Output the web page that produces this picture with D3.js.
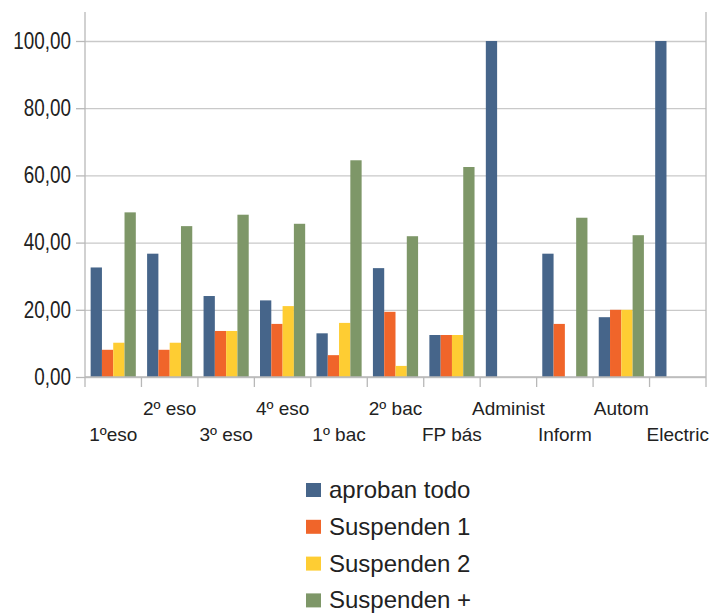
<!DOCTYPE html>
<html>
<head>
<meta charset="utf-8">
<title>aprobados por curso</title>
<script type="text/javascript" src="https://cdn.jsdelivr.net/npm/d3@7/dist/d3.min.js"></script>
<style>
  body { margin: 0; background: #fff; }
  text { fill: #222; font-family: "Liberation Sans", Arial, sans-serif; }
  .ylab { font-size: 23px; }
  .xlab { font-size: 19px; }
  .leg { font-size: 24px; }
</style>
</head>
<body>
<div id="chart"></div>
<script type="text/javascript">

// chart data
var categories = ["1ºeso", "2º eso", "3º eso", "4º eso", "1º bac", "2º bac", "FP bás", "Administ", "Inform", "Autom", "Electric"];
var seriesNames = ["aproban todo", "Suspenden 1", "Suspenden 2", "Suspenden +"];
var aprobanTodo = [32.6, 36.7, 24.1, 22.8, 13.0, 32.4, 12.5, 100, 36.7, 17.8, 100];
var suspenden1  = [8.1, 8.1, 13.7, 15.8, 6.5, 19.4, 12.5, 0, 15.8, 20.0, 0];
var suspenden2  = [10.2, 10.2, 13.7, 21.1, 16.1, 3.3, 12.5, 0, 0, 20.0, 0];
var suspendenMas = [49.0, 44.9, 48.3, 45.6, 64.5, 41.9, 62.5, 0, 47.4, 42.2, 0];
var yTicks = [0, 20, 40, 60, 80, 100];

var seriesValues = [aprobanTodo, suspenden1, suspenden2, suspendenMas];
var colors = ["#46658a", "#f0652a", "#fecd33", "#7e9768"];

var W = 722, H = 615;
var plotL = 85, plotR = 706, plotT = 12, plotB = 377;
var ySquash = 0.82; // y labels are drawn narrow in the original

var svg = d3.select("#chart").append("svg")
  .attr("width", W)
  .attr("height", H);

var x = d3.scaleBand().domain(categories).range([plotL, plotR]).padding(0);
var x1 = d3.scaleBand().domain(seriesNames)
  .range([x.bandwidth() * 0.1, x.bandwidth() * 0.9]).padding(0);
var y = d3.scaleLinear().domain([0, 108.63]).range([plotB, plotT]);

//gridlines
svg.append("g")
  .attr("transform", "translate(" + plotL + ",0)")
  .call(d3.axisLeft(y).tickValues(yTicks).tickSize(-(plotR - plotL)).tickFormat(""))
  .call(function(g) {
    g.select(".domain").remove();
    g.selectAll("line").attr("stroke", "#c9c9c9").attr("stroke-width", 1.3);
  });

//frame lines left/right
[plotL, plotR].forEach(function(xx) {
  svg.append("line")
    .attr("x1", xx).attr("x2", xx)
    .attr("y1", plotT).attr("y2", plotB)
    .attr("stroke", "#b8b8b8").attr("stroke-width", 1.3);
});

//bars
var groups = svg.append("g").selectAll("g")
  .data(categories)
  .enter().append("g")
  .attr("transform", function(d) { return "translate(" + x(d) + ",0)"; });

groups.selectAll("rect")
  .data(function(d, i) {
    return seriesNames.map(function(s, j) { return { name: s, value: seriesValues[j][i], color: colors[j] }; });
  })
  .enter().append("rect")
  .filter(function(d) { return d.value > 0; })
  .attr("x", function(d) { return x1(d.name); })
  .attr("width", x1.bandwidth())
  .attr("y", function(d) { return y(d.value); })
  .attr("height", function(d) { return plotB - y(d.value); })
  .attr("fill", function(d) { return d.color; });

//y axis
svg.append("g")
  .attr("transform", "translate(" + plotL + ",0)")
  .call(d3.axisLeft(y).tickValues(yTicks).tickSize(9).tickPadding(5)
    .tickFormat(function(d) { return d3.format(".2f")(d).replace(".", ","); }))
  .call(function(g) {
    g.select(".domain").remove();
    g.selectAll("line").attr("stroke", "#b8b8b8").attr("stroke-width", 1.3);
    g.selectAll("text")
      .attr("class", "ylab")
      .attr("fill", "#222")
      .attr("x", -14 / ySquash)
      .attr("transform", "scale(" + ySquash + ",1)");
  })
  .attr("font-family", null).attr("font-size", null);

//x axis line + ticks at category boundaries
svg.append("line")
  .attr("x1", plotL).attr("x2", plotR)
  .attr("y1", plotB).attr("y2", plotB)
  .attr("stroke", "#b8b8b8").attr("stroke-width", 1.3);

var bounds = categories.map(function(c) { return x(c); }).concat([plotR]);
svg.append("g").selectAll("line")
  .data(bounds)
  .enter().append("line")
  .attr("x1", function(d) { return d; }).attr("x2", function(d) { return d; })
  .attr("y1", plotB).attr("y2", plotB + 10)
  .attr("stroke", "#b8b8b8").attr("stroke-width", 1.3);

//staggered category labels
svg.append("g").selectAll("text")
  .data(categories)
  .enter().append("text")
  .attr("class", "xlab")
  .attr("text-anchor", "middle")
  .attr("x", function(d) { return x(d) + x.bandwidth() / 2; })
  .attr("y", function(d, i) { return (i % 2 == 1) ? 415 : 441; })
  .text(function(d) { return d; });

//legend
var legend = svg.append("g").selectAll("g")
  .data(seriesNames)
  .enter().append("g")
  .attr("transform", function(d, i) { return "translate(306," + (483 + i * 36.8) + ")"; });

legend.append("rect")
  .attr("width", 15).attr("height", 14)
  .attr("fill", function(d, i) { return colors[i]; });

legend.append("text")
  .attr("class", "leg")
  .attr("x", 23)
  .attr("y", 15)
  .text(function(d) { return d; });

</script>
</body>
</html>
